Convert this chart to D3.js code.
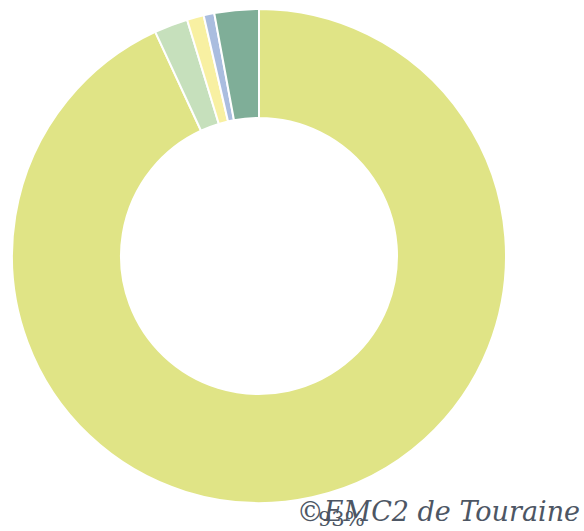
<!DOCTYPE html>
<html>
<head>
<meta charset="utf-8">
<script src="https://cdn.jsdelivr.net/npm/d3@7/dist/d3.min.js"></script>
<style>
  html, body { margin: 0; padding: 0; background: #ffffff; }
  svg { display: block; }
</style>
</head>
<body>
<svg id="chart" width="584" height="531"></svg>
<script>
// Share of each category (percent), drawn clockwise from 12 o'clock
const categories = ["A", "B", "C", "D", "E"];
const values = [93.1, 2.2, 1.1, 0.7, 2.9];
const colors = ["#e0e486", "#c6e0bc", "#f8f0a2", "#aabddf", "#7fae98"];
const labels = ["93%", "", "", "", ""];

const svg = d3.select("#chart");
const cx = 259, cy = 256;
const outerR = 247, innerR = 138;

const data = categories.map((c, i) => ({ category: c, value: values[i], color: colors[i], label: labels[i] }));

const pie = d3.pie().value(d => d.value).sort(null);
const arc = d3.arc().innerRadius(innerR).outerRadius(outerR);

const g = svg.append("g").attr("transform", `translate(${cx},${cy})`);

g.selectAll("path.slice")
  .data(pie(data))
  .join("path")
  .attr("class", "slice")
  .attr("d", arc)
  .attr("fill", d => d.data.color)
  .attr("stroke", "#ffffff")
  .attr("stroke-width", 2)
  .attr("stroke-linejoin", "round");

// watermark
svg.append("text")
  .attr("x", 580)
  .attr("y", 521)
  .attr("text-anchor", "end")
  .attr("font-family", "'DejaVu Serif', serif")
  .attr("font-style", "italic")
  .attr("font-size", 27)
  .attr("fill", "#4d5664")
  .text("©EMC2 de Touraine");

// slice value label
svg.append("text")
  .attr("x", 318)
  .attr("y", 526)
  .attr("font-family", "'DejaVu Serif', serif")
  .attr("font-size", 21)
  .attr("fill", "#4d5664")
  .text(labels[0]);
</script>
</body>
</html>
